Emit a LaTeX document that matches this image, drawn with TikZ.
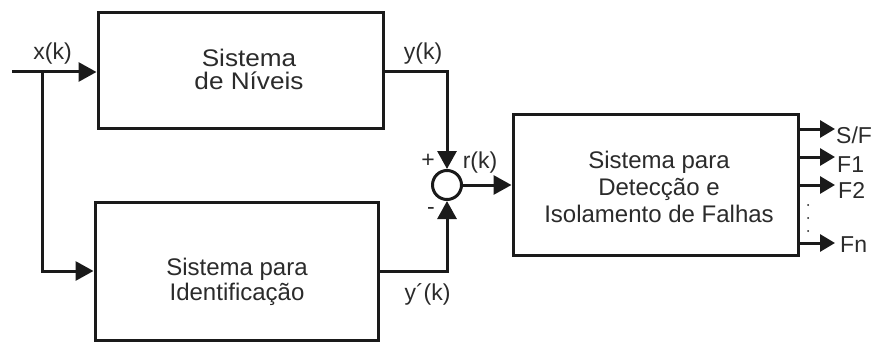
\documentclass[tikz,border=0pt]{standalone}
\usepackage{fontspec}
\setmainfont{Liberation Sans}
\usetikzlibrary{arrows.meta}
\definecolor{lin}{HTML}{1A1A1A}
\definecolor{txt}{HTML}{2B2B2B}
\begin{document}
\begin{tikzpicture}[x=1pt,y=-1pt,
  blk/.style={draw=lin,line width=3pt,rectangle,inner sep=0pt,fill=white},
  wire/.style={draw=lin,line width=3pt},
  arr/.style={wire,-{Triangle[length=18pt,width=19pt]}},
  oarr/.style={wire,-{Triangle[length=15pt,width=17pt]}},
  lbl/.style={text=txt,inner sep=0pt,font=\fontsize{23}{26}\selectfont},
  btxt/.style={text=txt,inner sep=0pt,align=center},
]
\useasboundingbox (0,0) rectangle (874,342);
% blocks
\node[blk,minimum width=285pt,minimum height=115pt] (b1) at (240.5,70.5) {};
\node[blk,minimum width=283pt,minimum height=138pt] (b2) at (236.5,271) {};
\node[blk,minimum width=285pt,minimum height=141pt] (b3) at (655.5,184.5) {};
\node[draw=lin,line width=3pt,circle,minimum size=29pt,inner sep=0pt] (sum) at (447,185) {};
% block texts
\node[btxt,font=\fontsize{24}{23}\selectfont] (t1) at (249,69.5) {\scalebox{1.09}[1]{Sistema}\\\scalebox{1.09}[1]{de Níveis}};
\node[btxt,font=\fontsize{24}{25}\selectfont] (t2) at (237,281.5) {Sistema para\\Identificação};
\node[btxt,font=\fontsize{24}{27}\selectfont] (t3) at (659,186.5) {Sistema para\\Detecção e\\Isolamento de Falhas};
% coordinates
\coordinate (in) at (12,72);
\coordinate (br) at (42,72);
\coordinate (oSF) at (835,129);
\coordinate (oF1) at (835,157);
\coordinate (oF2) at (835,185);
\coordinate (oFn) at (835,243);
% connectors
\draw[arr] (in) -- (in -| b1.west);
\draw[arr] (br) |- (b2.west);
\draw[arr] (b1.east |- in) -| (sum.north);
\draw[arr] (b2.east) -| (sum.south);
\draw[arr] (sum.east) -- (b3.west |- sum.east);
\draw[oarr] (b3.east |- oSF) -- (oSF);
\draw[oarr] (b3.east |- oF1) -- (oF1);
\draw[oarr] (b3.east |- oF2) -- (oF2);
\draw[oarr] (b3.east |- oFn) -- (oFn);
% dots
\fill[lin] (808,205) circle (1pt) (808,218) circle (1pt) (808,231) circle (1pt);
% labels
\node[lbl,anchor=base] (lx) at (52.5,60) {x(k)};
\node[lbl,anchor=base] (ly) at (423,60) {y(k)};
\node[lbl,anchor=base] (lyp) at (427.5,300) {y´(k)};
\node[lbl,anchor=base] (lr) at (480,168) {r(k)};
\node[lbl,anchor=base] (lp) at (428,167) {+};
\node[lbl,anchor=base] (lm) at (431,214) {-};
\node[lbl,anchor=base west] (lSF) at (836,143) {S/F};
\node[lbl,anchor=base west] (lF1) at (837,172) {F1};
\node[lbl,anchor=base west] (lF2) at (838,198) {F2};
\node[lbl,anchor=base west] (lFn) at (840,252) {Fn};
\end{tikzpicture}
\end{document}
